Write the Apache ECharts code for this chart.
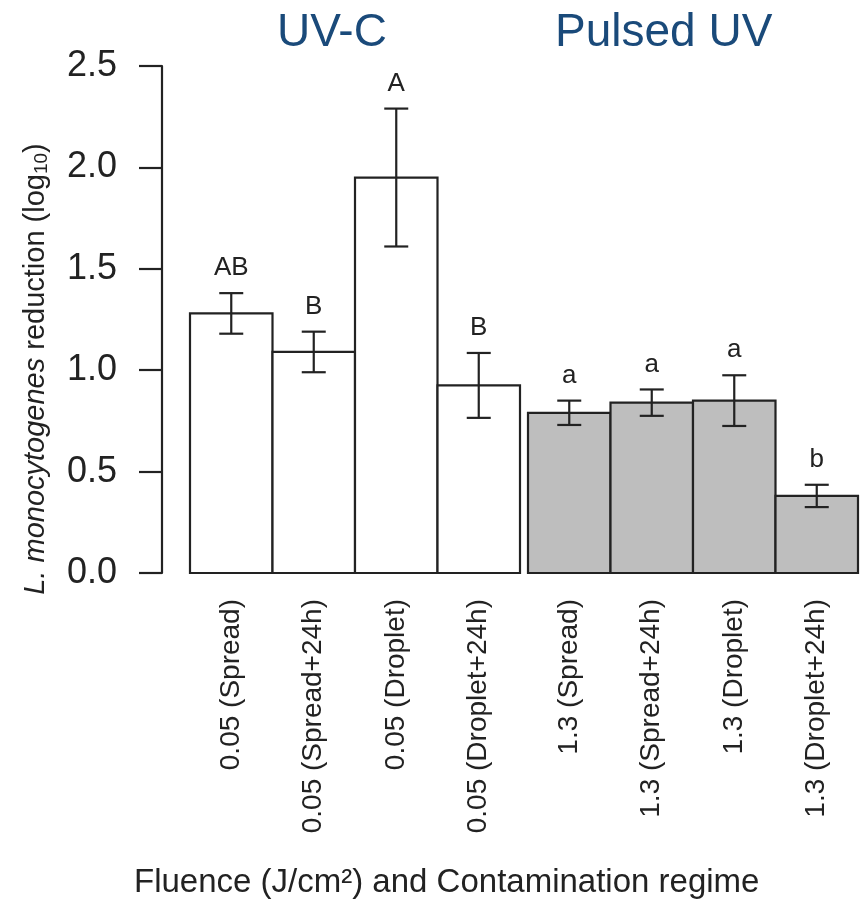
<!DOCTYPE html>
<html>
<head>
<meta charset="utf-8">
<script src="https://cdn.jsdelivr.net/npm/echarts@6/dist/echarts.min.js"></script>
<style>html,body{margin:0;padding:0;background:#fff}#c{width:864px;height:913px}</style>
</head>
<body>
<div id="c"></div>
<script>
const categories = ['0.05 (Spread)','0.05 (Spread+24h)','0.05 (Droplet)','0.05 (Droplet+24h)','1.3 (Spread)','1.3 (Spread+24h)','1.3 (Droplet)','1.3 (Droplet+24h)'];
const means = [1.28, 1.09, 1.95, 0.925, 0.79, 0.84, 0.85, 0.38];
const errors = [0.10, 0.10, 0.34, 0.16, 0.06, 0.065, 0.125, 0.055];
const letters = ['AB','B','A','B','a','a','a','b'];
const groupOf = [0,0,0,0,1,1,1,1];
const groupTitles = ['UV-C','Pulsed UV'];
const yTicks = [0, 0.5, 1.0, 1.5, 2.0, 2.5];

const GAP = 0.097;          // space between the two groups (in bar widths)
const fills = ['#ffffff', '#bebebe'];
const ink = '#222222';
const FONT = '"Liberation Sans", Arial, sans-serif';

const data = categories.map((c, i) => [i + 0.5 + (groupOf[i] === 1 ? GAP : 0), means[i], errors[i], i]);

const chart = echarts.init(document.getElementById('c'), null, {renderer: 'canvas'});

function renderItem(params, api) {
  const xc = api.value(0), m = api.value(1), e = api.value(2), i = api.value(3);
  const p0 = api.coord([xc - 0.5, 0]);
  const p1 = api.coord([xc + 0.5, m]);
  const top = api.coord([xc, m + e]);
  const bot = api.coord([xc, m - e]);
  const cx = top[0];
  const cap = 12;
  const ls = {stroke: ink, lineWidth: 2.2};
  return {
    type: 'group',
    children: [
      {type: 'rect', shape: {x: p0[0], y: p1[1], width: p1[0] - p0[0], height: p0[1] - p1[1]},
       style: {fill: fills[groupOf[i]], stroke: ink, lineWidth: 2.2}},
      {type: 'line', shape: {x1: cx, y1: top[1], x2: cx, y2: bot[1]}, style: ls},
      {type: 'line', shape: {x1: cx - cap, y1: top[1], x2: cx + cap, y2: top[1]}, style: ls},
      {type: 'line', shape: {x1: cx - cap, y1: bot[1], x2: cx + cap, y2: bot[1]}, style: ls},
      {type: 'text', x: cx, y: top[1] - 12,
       style: {text: letters[i], fill: ink, font: '26px ' + FONT, textAlign: 'center', textVerticalAlign: 'bottom'}},
      {type: 'text', x: cx, y: p0[1] + 26, rotation: Math.PI / 2,
       style: {text: categories[i], fill: ink, font: '28px ' + FONT, textAlign: 'right', textVerticalAlign: 'middle'}}
    ]
  };
}

const xMax = 8 + GAP;
const xMin = -28 / (696 - 28) * xMax;

chart.setOption({
  animation: false,
  backgroundColor: '#ffffff',
  grid: {left: 162, right: 6, top: 66, bottom: 340},
  xAxis: {type: 'value', min: xMin, max: xMax, show: false},
  yAxis: {
    type: 'value', min: yTicks[0], max: yTicks[yTicks.length - 1], interval: 0.5,
    splitLine: {show: false},
    axisLine: {show: true, onZero: false, lineStyle: {color: ink, width: 2.2}},
    axisTick: {show: true, length: 23, lineStyle: {color: ink, width: 2.2}},
    axisLabel: {color: ink, fontSize: 36, fontFamily: FONT, margin: 45, formatter: v => v.toFixed(1)}
  },
  graphic: [
    {type: 'text', left: 277, top: 10, style: {text: groupTitles[0], fill: '#1a4a7a', font: '46px ' + FONT}},
    {type: 'text', left: 555, top: 10, style: {text: groupTitles[1], fill: '#1a4a7a', font: '46px ' + FONT}},
    {type: 'text', left: 134, top: 866, style: {text: 'Fluence (J/cm²) and Contamination regime', fill: ink, font: '33px ' + FONT}},
    {type: 'text', x: 36, y: 369, rotation: Math.PI / 2,
     style: {
       text: '{i|L. monocytogenes} {n|reduction (log}{s|10}{n|)}',
       textAlign: 'center', textVerticalAlign: 'middle', fill: ink, font: '29px ' + FONT,
       rich: {
         i: {fontStyle: 'italic', fontSize: 29, fontFamily: FONT, fill: ink},
         n: {fontSize: 29, fontFamily: FONT, fill: ink},
         s: {fontSize: 19, fontFamily: FONT, fill: ink, verticalAlign: 'bottom', padding: [12, 0, 0, 0]}
       }
     }}
  ],
  series: [{type: 'custom', renderItem: renderItem, data: data, clip: false, encode: {x: 0, y: 1}}]
});
</script>
</body>
</html>
